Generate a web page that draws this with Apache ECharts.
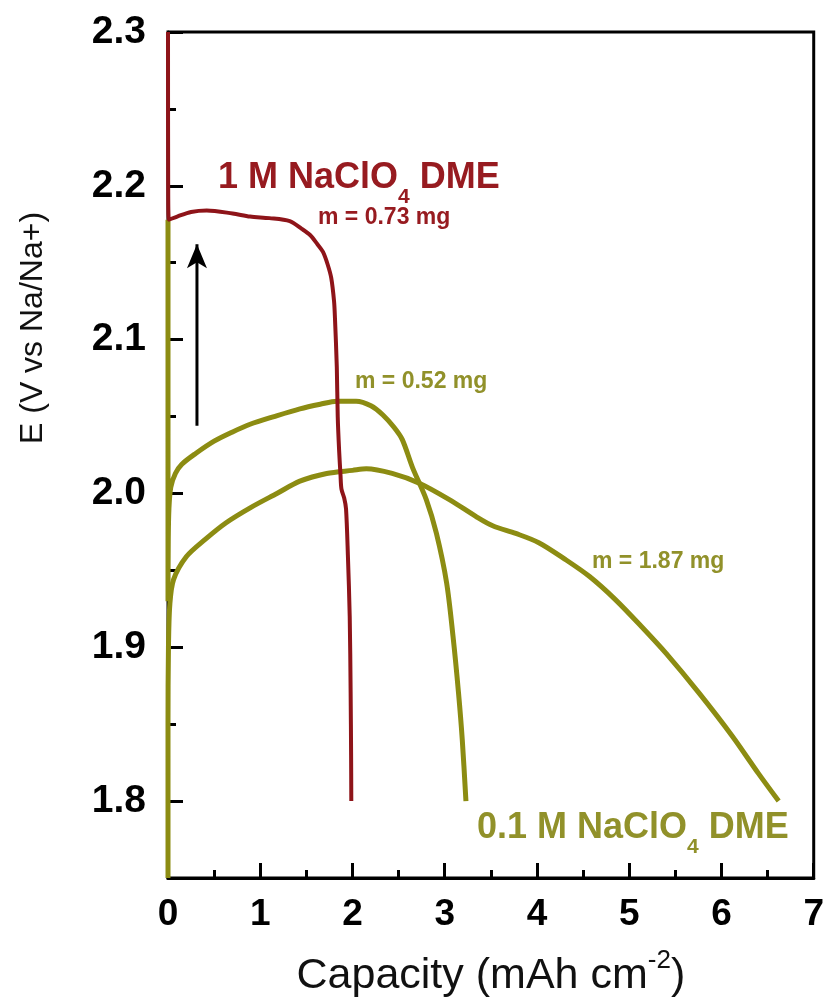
<!DOCTYPE html>
<html>
<head>
<meta charset="utf-8">
<script src="https://cdn.jsdelivr.net/npm/echarts@6/dist/echarts.min.js"></script>
<style>
html,body{margin:0;padding:0;background:#fff;}
#c{width:827px;height:1005px;}
</style>
</head>
<body>
<div id="c"></div>
<script>
// ---- data (capacity mAh cm^-2, potential V vs Na/Na+) ----
const red1M_073mg = [
  [0, 2.30], [0.002, 2.20], [0.01, 2.178], [0.1, 2.180], [0.25, 2.183], [0.42, 2.184],
  [0.7, 2.182], [0.89, 2.180], [1.1, 2.179], [1.32, 2.177], [1.45, 2.172], [1.54, 2.168],
  [1.62, 2.162], [1.68, 2.157], [1.73, 2.149], [1.77, 2.140], [1.80, 2.125], [1.81, 2.114],
  [1.83, 2.082], [1.84, 2.050], [1.855, 2.028], [1.87, 2.012], [1.88, 2.003], [1.91, 1.997],
  [1.93, 1.990], [1.95, 1.960], [1.97, 1.920], [1.98, 1.870], [1.985, 1.830], [1.987, 1.800]
];
const olive01M_052mg = [
  [0, 2.178], [0, 1.93], [0.003, 1.97], [0.01, 1.99], [0.03, 2.004], [0.08, 2.013],
  [0.15, 2.019], [0.3, 2.026], [0.5, 2.034], [0.7, 2.040], [0.89, 2.045], [1.15, 2.050],
  [1.43, 2.055], [1.65, 2.058], [1.83, 2.060], [2.04, 2.060], [2.2, 2.057], [2.33, 2.051],
  [2.45, 2.043], [2.54, 2.035], [2.65, 2.017], [2.8, 1.996], [2.91, 1.974], [3.02, 1.942],
  [3.09, 1.907], [3.15, 1.870], [3.19, 1.840], [3.23, 1.800]
];
const olive01M_187mg = [
  [0, 1.75], [0, 1.85], [0.005, 1.90], [0.02, 1.928], [0.06, 1.944], [0.2, 1.959],
  [0.4, 1.970], [0.63, 1.981], [0.9, 1.991], [1.18, 2.000], [1.43, 2.008], [1.72, 2.013],
  [2.0, 2.015], [2.15, 2.016], [2.43, 2.013], [2.73, 2.0065], [3.05, 1.996], [3.34, 1.985],
  [3.52, 1.979], [3.77, 1.974], [4.02, 1.968], [4.31, 1.957], [4.57, 1.946], [4.85, 1.931],
  [5.14, 1.913], [5.40, 1.896], [5.76, 1.870], [6.12, 1.842], [6.40, 1.818], [6.62, 1.800]
];
const arrowPts = [[0.314, 2.044], [0.314, 2.162]];
const yLabelValues = [1.8, 1.9, 2.0, 2.1, 2.2, 2.3];
const yMinorValues = [1.85, 1.95, 2.05, 2.15, 2.25];
const xMin = 0, xMax = 7, xInterval = 1;
const yMin = 1.75, yMax = 2.3;

const RED = '#8e1419';
const RED_TXT = '#971b20';
const OLIVE = '#8c8c12';
const OLIVE_TXT = '#91912a';
const FONT = '"Liberation Sans", Arial, sans-serif';

const chart = echarts.init(document.getElementById('c'));
const G = {left: 168, right: 12, top: 32, bottom: 127};

chart.setOption({
  animation: false,
  backgroundColor: '#fff',
  grid: {left: G.left, right: G.right, top: G.top, bottom: G.bottom, show: true,
         borderColor: '#000', borderWidth: 3, backgroundColor: 'transparent'},
  xAxis: {
    type: 'value', min: xMin, max: xMax, interval: xInterval,
    axisLine: {show: true, onZero: false, lineStyle: {color: '#000', width: 3}},
    axisTick: {show: true, inside: true, length: 15, lineStyle: {color: '#000', width: 3}},
    minorTick: {show: true, splitNumber: 2, length: 8, lineStyle: {color: '#000', width: 3}},
    splitLine: {show: false},
    axisLabel: {color: '#000', fontFamily: FONT, fontWeight: 'bold', fontSize: 37, margin: 18},
    name: '{m|Capacity (mAh cm}{sup|-2}{m|)}',
    nameLocation: 'middle', nameGap: 70,
    nameTextStyle: {
      rich: {
        m: {fontFamily: FONT, fontSize: 43, color: '#111', lineHeight: 50, verticalAlign: 'bottom'},
        sup: {fontFamily: FONT, fontSize: 26, color: '#111', lineHeight: 26, verticalAlign: 'top'}
      }
    }
  },
  yAxis: [{
    type: 'value', min: yMin, max: yMax,
    axisLine: {show: true, onZero: false, lineStyle: {color: '#000', width: 3}},
    axisTick: {show: true, inside: true, length: 15, customValues: yLabelValues,
               lineStyle: {color: '#000', width: 3}},
    splitLine: {show: false},
    axisLabel: {color: '#000', fontFamily: FONT, fontWeight: 'bold', fontSize: 39, margin: 22,
                customValues: yLabelValues, formatter: v => v.toFixed(1)}
  }, {
    type: 'value', min: yMin, max: yMax, position: 'left', offset: 0,
    axisLine: {show: false},
    axisTick: {show: true, inside: true, length: 8, customValues: yMinorValues,
               lineStyle: {color: '#000', width: 3}},
    axisLabel: {show: false},
    splitLine: {show: false}
  }],
  graphic: [
    {type: 'text', rotation: Math.PI / 2, position: [17, 444], silent: true,
     style: {text: 'E (V vs Na/Na+)', fontFamily: FONT, fontSize: 32, fill: '#111'}},
    {type: 'text', left: 218, top: 160, silent: true,
     style: {text: '{a|1 M NaClO}{s|4}{a| DME}', fill: RED_TXT,
       rich: {
         a: {fontFamily: FONT, fontWeight: 'bold', fontSize: 36, fill: RED_TXT, lineHeight: 48, verticalAlign: 'top'},
         s: {fontFamily: FONT, fontWeight: 'bold', fontSize: 21, fill: RED_TXT, lineHeight: 21, verticalAlign: 'bottom'}
       }}},
    {type: 'text', left: 318, top: 206, silent: true,
     style: {text: 'm = 0.73 mg', fontFamily: FONT, fontWeight: 'bold', fontSize: 23, fill: RED_TXT}},
    {type: 'text', left: 355, top: 370, silent: true,
     style: {text: 'm = 0.52 mg', fontFamily: FONT, fontWeight: 'bold', fontSize: 23, fill: OLIVE_TXT}},
    {type: 'text', left: 592, top: 550, silent: true,
     style: {text: 'm = 1.87 mg', fontFamily: FONT, fontWeight: 'bold', fontSize: 23, fill: OLIVE_TXT}},
    {type: 'text', left: 477, top: 810, silent: true,
     style: {text: '{a|0.1 M NaClO}{s|4}{a| DME}', fill: OLIVE_TXT,
       rich: {
         a: {fontFamily: FONT, fontWeight: 'bold', fontSize: 36, fill: OLIVE_TXT, lineHeight: 48, verticalAlign: 'top'},
         s: {fontFamily: FONT, fontWeight: 'bold', fontSize: 21, fill: OLIVE_TXT, lineHeight: 21, verticalAlign: 'bottom'}
       }}}
  ],
  series: [
    {name: '1 M NaClO4 DME, m = 0.73 mg', type: 'line', data: red1M_073mg, showSymbol: false,
     symbol: 'none', smooth: 0.3, lineStyle: {color: RED, width: 4}, z: 4, silent: true},
    {name: '0.1 M NaClO4 DME, m = 0.52 mg', type: 'line', data: olive01M_052mg, showSymbol: false,
     symbol: 'none', smooth: 0.3, lineStyle: {color: OLIVE, width: 5}, z: 3, silent: true},
    {name: '0.1 M NaClO4 DME, m = 1.87 mg', type: 'line', data: olive01M_187mg, showSymbol: false,
     symbol: 'none', smooth: 0.3, lineStyle: {color: OLIVE, width: 5}, z: 3, silent: true},
    {name: 'arrow', type: 'line', silent: true, z: 5,
     data: [{value: arrowPts[0], symbol: 'none'},
            {value: arrowPts[1], symbol: 'arrow', symbolSize: [15, 24]}],
     showSymbol: true, itemStyle: {color: '#000'}, lineStyle: {color: '#000', width: 3}}
  ]
});
</script>
</body>
</html>
